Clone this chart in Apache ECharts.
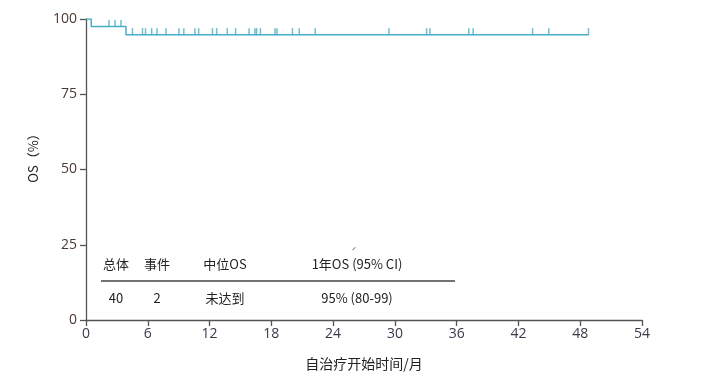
<!DOCTYPE html>
<html><head><meta charset="utf-8">
<script src="https://cdn.jsdelivr.net/npm/echarts@6/dist/echarts.min.js"></script>
<style>html,body{margin:0;padding:0;background:#fff}#c{width:709px;height:379px}</style>
</head><body><div id="c"></div>
<script>
// Kaplan-Meier step points [month, OS%]
const kmTimes = [0, 0.51, 3.88, 48.8];
const kmValues = [100, 97.5, 94.8, 94.8];
// censored observations (months)
const censorTimes = [2.23, 2.82, 3.40, 4.51, 5.49, 5.78, 6.38, 6.89, 7.77, 9.03, 9.50, 10.58, 10.94,
  12.28, 12.69, 13.72, 14.53, 15.84, 16.41, 16.57, 16.94, 18.35, 18.54, 20.05, 20.71, 22.26,
  29.42, 33.08, 33.40, 37.18, 37.60, 43.37, 44.95, 48.8];
const xTicks = [0, 6, 12, 18, 24, 30, 36, 42, 48, 54];
const yTicks = [0, 25, 50, 75, 100];
const tableHeader = ['总体', '事件', '中位OS', '1年OS (95% CI)'];
const tableRow = ['40', '2', '未达到', '95% (80-99)'];

function kmAt(t) {
  let v = kmValues[0];
  for (let i = 0; i < kmTimes.length; i++) if (kmTimes[i] <= t) v = kmValues[i];
  return v;
}
const color = '#49adc8';
const font = '"Noto Sans CJK SC","Noto Sans",sans-serif';
const chart = echarts.init(document.getElementById('c'));
const colX = [116, 157, 225, 357];
const g = [];
tableHeader.forEach((t, i) => g.push({type:'text', x: colX[i], y: 264, style:{text:t, align:'center', verticalAlign:'middle', fill:'#222', font:'13px ' + font}}));
tableRow.forEach((t, i) => g.push({type:'text', x: colX[i], y: 298, style:{text:t, align:'center', verticalAlign:'middle', fill:'#222', font:'13px ' + font}}));
g.push({type:'text', x: 354, y: 252, style:{text:'ˊ', align:'center', verticalAlign:'middle', fill:'#555', font:'9px ' + font}});
g.push({type:'text', x: 33, y: 155, rotation: Math.PI / 2, style:{text:'OS（%）', align:'center', verticalAlign:'middle', fill:'#222', font:'13px ' + font}});
chart.setOption({
  animation: false,
  grid: {left: 86, right: 67, top: 19, bottom: 59},
  xAxis: {
    type: 'value', min: xTicks[0], max: xTicks[xTicks.length - 1], interval: 6,
    name: '自治疗开始时间/月', nameLocation: 'middle', nameGap: 37,
    nameTextStyle: {fontSize: 14, color: '#222', fontFamily: font},
    axisLine: {lineStyle: {color: '#555', width: 1.3}},
    axisTick: {length: 6, lineStyle: {color: '#555', width: 1.3}},
    axisLabel: {fontSize: 14, color: '#3a3a4a', margin: 7, fontFamily: '"Open Sans",sans-serif'},
    splitLine: {show: false}
  },
  yAxis: {
    type: 'value', min: yTicks[0], max: yTicks[yTicks.length - 1], interval: 25,
    axisLine: {show: true, lineStyle: {color: '#555', width: 1.3}},
    axisTick: {show: true, length: 6, lineStyle: {color: '#555', width: 1.3}},
    axisLabel: {fontSize: 14, color: '#4a3a30', margin: 9, fontFamily: '"Open Sans",sans-serif'},
    splitLine: {show: false}
  },
  graphic: g.concat([
    {type:'line', shape:{x1:101, y1:281, x2:455, y2:281}, style:{stroke:'#444', lineWidth:1.3}}
  ]),
  series: [
    {type: 'line', step: 'end', symbol: 'none', data: kmTimes.map((t, i) => [t, kmValues[i]]),
     lineStyle: {color: color, width: 1.5}},
    {type: 'scatter', symbol: 'rect', symbolSize: [1.5, 7], symbolOffset: [0, -3],
     itemStyle: {color: color}, data: censorTimes.map(t => [t, kmAt(t)])}
  ]
});
</script></body></html>
